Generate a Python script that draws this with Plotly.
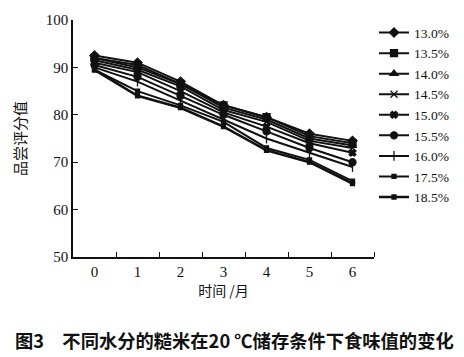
import plotly.graph_objects as go

months = [0, 1, 2, 3, 4, 5, 6]
series_names = ["13.0%", "13.5%", "14.0%", "14.5%", "15.0%", "15.5%", "16.0%", "17.5%", "18.5%"]
s130 = [92.5, 91.0, 87.0, 82.0, 79.5, 76.0, 74.5]
s135 = [92.0, 90.5, 86.5, 82.0, 79.5, 75.5, 74.0]
s140 = [92.0, 90.0, 86.5, 81.5, 79.0, 75.0, 73.5]
s145 = [91.5, 89.5, 86.0, 81.0, 78.5, 74.5, 73.0]
s150 = [91.0, 89.0, 85.0, 80.5, 77.5, 74.0, 72.0]
s155 = [90.5, 88.0, 84.0, 80.0, 76.5, 73.0, 70.0]
s160 = [90.0, 87.0, 83.0, 79.0, 75.0, 72.0, 69.0]
s175 = [89.5, 85.0, 82.0, 78.5, 73.0, 70.5, 66.0]
s185 = [89.5, 84.0, 81.5, 77.5, 72.5, 70.0, 65.5]
all_series = [s130, s135, s140, s145, s150, s155, s160, s175, s185]
y_ticks = [50, 60, 70, 80, 90, 100]

symbols = ["diamond", "square", "triangle-up", "x-thin-open", "x", "circle",
           "line-ns-open", "square", "square"]
sizes = [7, 7, 7, 7, 6, 7, 7, 4, 4]

serif = "Liberation Serif, Times New Roman, serif"
cjk = "Noto Sans CJK SC"

fig = go.Figure()
for name, vals, sym, sz in zip(series_names, all_series, symbols, sizes):
    fig.add_trace(go.Scatter(
        x=months, y=vals, name=name, mode="lines+markers",
        line=dict(color="#111", width=2.0 if name != "18.5%" else 2.6),
        marker=dict(symbol=sym, size=sz, color="#111",
                    line=dict(color="#111", width=1.3)),
    ))

fig.update_layout(
    width=464, height=357,
    margin=dict(l=65, r=98, t=12, b=108, autoexpand=False),
    paper_bgcolor="white", plot_bgcolor="white",
    showlegend=True,
    legend=dict(x=1.0, y=0.6, xanchor="left", yanchor="middle",
                font=dict(family=serif, size=13.5, color="#111"),
                tracegroupgap=0, itemwidth=30, bgcolor="rgba(0,0,0,0)"),
    font=dict(family=serif, color="#111"),
)
fig.update_xaxes(
    range=[-0.5, 6.5], tickvals=months, ticktext=[str(m) for m in months],
    ticks="", showgrid=False, zeroline=False,
    showline=True, linecolor="#111", linewidth=1.5,
    tickfont=dict(family=serif, size=15, color="#111"),
    minor=dict(tickvals=[0.5, 1.5, 2.5, 3.5, 4.5, 5.5, 6.5], ticks="inside",
               ticklen=5, tickcolor="#111", tickwidth=1.2, showgrid=False),
    title=dict(text="时间 /月", font=dict(family=cjk, size=14, color="#111"), standoff=2),
)
fig.update_yaxes(
    range=[50, 100], tickvals=y_ticks, ticks="inside", ticklen=5,
    tickcolor="#111", tickwidth=1.2, showgrid=False, zeroline=False,
    showline=True, linecolor="#111", linewidth=1.5,
    tickfont=dict(family=serif, size=15, color="#111"),
    title=dict(text="品尝评分值", font=dict(family=cjk, size=15, color="#111"), standoff=16),
)
fig.add_annotation(
    text="<b>图3　不同水分的糙米在20 ℃储存条件下食味值的变化</b>",
    xref="paper", yref="paper", x=-0.2, y=-0.35, xanchor="left", yanchor="middle",
    showarrow=False, font=dict(family=cjk, size=18.3, color="#111"),
)
fig.write_html("out.html")
